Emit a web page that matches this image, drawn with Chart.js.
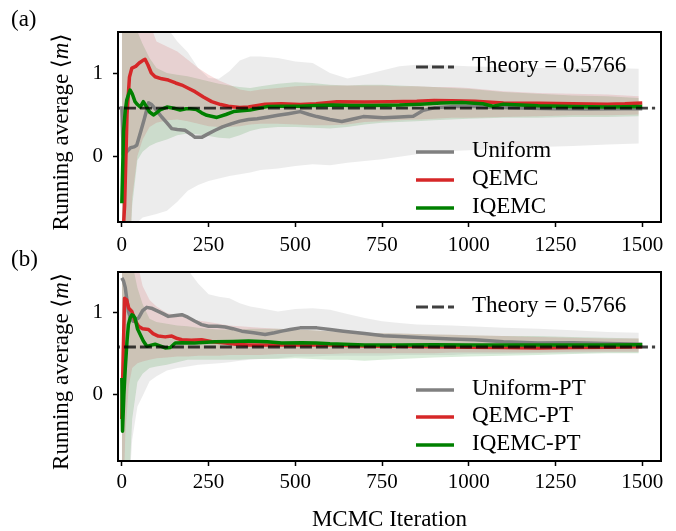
<!DOCTYPE html>
<html>
<head>
<meta charset="utf-8">
<script src="https://cdn.jsdelivr.net/npm/chart.js@4.4.1/dist/chart.umd.min.js"></script>
<style>
	html, body { margin: 0; padding: 0; background: #fff; overflow: hidden; }
	#wrap { position: relative; width: 676px; height: 531px; }
	canvas { position: absolute; left: 0; }
	#chart-a { top: 0; }
	#chart-b { top: 240px; }
</style>
</head>
<body>
<div id="wrap">
	<canvas id="chart-a" width="676" height="255"></canvas>
	<canvas id="chart-b" width="676" height="291"></canvas>
</div>
<script>
// ---- data ----
const THEORY = 0.5766;
const theoryIters = [-40, 1537];
const xTicks = [0, 250, 500, 750, 1000, 1250, 1500];
const yTicks = [0, 1];

// panel (a): running averages
const uniformItersA = [0, 4, 14, 25, 35, 43, 55, 65, 77, 86, 100, 115, 130, 144, 160, 182, 200, 211, 230, 250, 269, 290, 317, 340, 365, 390, 422, 450, 480, 514, 540, 562, 600, 634, 660, 696, 754, 800, 840, 869, 900, 950, 1000, 1050, 1100, 1177, 1250, 1350, 1450, 1500];
const uniformA = [0.6, 0.02, 0.05, 0.1, 0.11, 0.13, 0.3, 0.45, 0.64, 0.62, 0.55, 0.47, 0.4, 0.33, 0.32, 0.31, 0.26, 0.225, 0.225, 0.27, 0.31, 0.35, 0.39, 0.42, 0.44, 0.45, 0.47, 0.49, 0.51, 0.535, 0.5, 0.475, 0.44, 0.415, 0.44, 0.475, 0.46, 0.47, 0.48, 0.55, 0.58, 0.595, 0.6, 0.59, 0.585, 0.575, 0.57, 0.565, 0.57, 0.57];

const qemcItersA = [0, 8, 15, 22, 29, 40, 50, 60, 67, 75, 85, 96, 115, 134, 155, 173, 190, 211, 235, 259, 285, 307, 340, 365, 413, 460, 514, 560, 620, 700, 773, 850, 900, 950, 1018, 1100, 1200, 1300, 1400, 1450, 1500];
const qemcA = [-1.2, -0.6, 0.5, 0.95, 1.06, 1.08, 1.12, 1.15, 1.165, 1.1, 1.0, 0.955, 0.93, 0.915, 0.88, 0.855, 0.82, 0.775, 0.71, 0.655, 0.62, 0.6, 0.585, 0.59, 0.625, 0.63, 0.62, 0.63, 0.655, 0.65, 0.655, 0.66, 0.67, 0.665, 0.66, 0.64, 0.635, 0.63, 0.625, 0.63, 0.64];

const iqemcItersA = [0, 5, 10, 14, 20, 24, 30, 38, 45, 53, 62, 70, 80, 91, 100, 110, 130, 150, 168, 185, 197, 215, 230, 245, 274, 300, 322, 345, 370, 395, 418, 460, 514, 560, 609, 660, 720, 800, 860, 920, 980, 1040, 1070, 1100, 1150, 1200, 1300, 1400, 1500];
const iqemcA = [-0.57, 0.3, 0.55, 0.67, 0.75, 0.795, 0.75, 0.655, 0.62, 0.59, 0.655, 0.6, 0.53, 0.495, 0.52, 0.555, 0.59, 0.575, 0.555, 0.57, 0.57, 0.56, 0.52, 0.49, 0.465, 0.5, 0.535, 0.545, 0.555, 0.575, 0.595, 0.6, 0.6, 0.61, 0.615, 0.61, 0.61, 0.615, 0.625, 0.64, 0.645, 0.63, 0.6, 0.625, 0.615, 0.605, 0.595, 0.59, 0.595];

// shaded spread, same iteration grid for every band
const bandIters = [0, 10, 20, 30, 45, 60, 80, 100, 130, 160, 190, 220, 250, 280, 310, 340, 370, 400, 450, 500, 550, 600, 650, 700, 750, 800, 850, 900, 950, 1000, 1100, 1200, 1300, 1400, 1490];

const uniformHiA = [2.5, 2.5, 2.5, 2.5, 2.3, 2.1, 1.9, 1.75, 1.55, 1.38, 1.25, 1.06, 0.94, 0.93, 1.02, 1.15, 1.2, 1.2, 1.18, 1.14, 1.12, 1.0, 0.935, 0.98, 1.03, 1.08, 1.1, 1.1, 1.09, 1.08, 1.07, 1.06, 1.06, 1.06, 1.05];
const uniformLoA = [-2.5, -2.5, -1.8, -1.2, -0.8, -0.74, -0.72, -0.7, -0.66, -0.55, -0.42, -0.35, -0.3, -0.27, -0.24, -0.22, -0.2, -0.17, -0.15, -0.12, -0.1, -0.11, -0.08, -0.06, -0.04, -0.01, 0.02, 0.05, 0.06, 0.07, 0.09, 0.11, 0.12, 0.14, 0.15];
const qemcHiA = [2.5, 2.5, 2.5, 2.2, 2.0, 1.8, 1.6, 1.38, 1.32, 1.26, 1.16, 1.06, 0.98, 0.91, 0.86, 0.8, 0.78, 0.8, 0.82, 0.84, 0.85, 0.85, 0.85, 0.85, 0.85, 0.84, 0.84, 0.83, 0.83, 0.82, 0.78, 0.76, 0.75, 0.74, 0.72];
const qemcLoA = [-3, -2.5, -1.5, -0.5, 0.0, 0.2, 0.35, 0.4, 0.43, 0.44, 0.42, 0.39, 0.36, 0.35, 0.35, 0.36, 0.38, 0.39, 0.39, 0.38, 0.37, 0.37, 0.38, 0.41, 0.42, 0.43, 0.44, 0.45, 0.46, 0.46, 0.47, 0.48, 0.49, 0.49, 0.5];
const iqemcHiA = [2.5, 2.5, 2.2, 1.8, 1.5, 1.35, 1.18, 1.06, 1.0, 0.98, 0.96, 0.93, 0.9, 0.87, 0.85, 0.83, 0.82, 0.84, 0.87, 0.89, 0.88, 0.86, 0.85, 0.86, 0.86, 0.85, 0.84, 0.83, 0.82, 0.81, 0.77, 0.75, 0.73, 0.72, 0.7];
const iqemcLoA = [-3, -2.5, -1.5, -0.6, -0.05, 0.05, 0.12, 0.16, 0.2, 0.25, 0.27, 0.26, 0.24, 0.22, 0.21, 0.25, 0.3, 0.33, 0.35, 0.35, 0.34, 0.33, 0.35, 0.38, 0.4, 0.41, 0.42, 0.43, 0.44, 0.45, 0.46, 0.46, 0.47, 0.47, 0.48];

// panel (b): parallel tempering runs
const uniformItersB = [0, 5, 10, 19, 25, 33, 48, 60, 72, 85, 105, 120, 134, 155, 173, 190, 211, 230, 250, 275, 298, 320, 346, 380, 413, 440, 461, 485, 514, 562, 600, 639, 700, 754, 800, 869, 950, 1018, 1100, 1200, 1300, 1400, 1500];
const uniformB = [1.42, 1.38, 1.3, 1.01, 0.93, 0.89, 0.93, 1.02, 1.06, 1.05, 1.01, 0.98, 0.95, 0.96, 0.97, 0.94, 0.89, 0.85, 0.83, 0.83, 0.82, 0.8, 0.77, 0.75, 0.73, 0.75, 0.77, 0.79, 0.81, 0.81, 0.79, 0.77, 0.74, 0.715, 0.705, 0.69, 0.675, 0.665, 0.64, 0.625, 0.63, 0.62, 0.61];

const qemcItersB = [0, 4, 8, 14, 20, 29, 38, 48, 60, 77, 90, 105, 125, 144, 160, 173, 200, 230, 260, 298, 330, 365, 420, 500, 600, 700, 800, 900, 1000, 1100, 1200, 1300, 1400, 1500];
const qemcB = [-0.3, 0.5, 1.17, 1.15, 1.05, 1.01, 0.9, 0.83, 0.8, 0.79, 0.74, 0.71, 0.7, 0.71, 0.68, 0.665, 0.66, 0.665, 0.64, 0.625, 0.61, 0.6, 0.6, 0.6, 0.6, 0.59, 0.585, 0.58, 0.575, 0.57, 0.565, 0.57, 0.575, 0.58];

const iqemcItersB = [0, 2, 6, 10, 15, 19, 24, 29, 33, 38, 45, 53, 62, 72, 85, 96, 110, 125, 140, 154, 175, 210, 269, 320, 365, 420, 461, 520, 560, 600, 700, 800, 900, 1000, 1100, 1200, 1300, 1400, 1500];
const iqemcB = [0.2, -0.45, 0.0, 0.32, 0.65, 0.85, 0.93, 0.97, 0.96, 0.93, 0.8, 0.73, 0.65, 0.585, 0.6, 0.61, 0.59, 0.565, 0.57, 0.625, 0.63, 0.625, 0.64, 0.645, 0.65, 0.64, 0.625, 0.63, 0.625, 0.615, 0.6, 0.6, 0.605, 0.6, 0.6, 0.6, 0.6, 0.6, 0.605];

const uniformHiB = [3, 3, 3, 2.8, 2.5, 2.3, 2.1, 1.95, 1.8, 1.65, 1.52, 1.35, 1.22, 1.19, 1.17, 1.11, 1.07, 1.05, 1.01, 1.04, 1.05, 1.03, 0.98, 0.93, 0.89, 0.87, 0.85, 0.845, 0.84, 0.83, 0.81, 0.8, 0.78, 0.76, 0.75];
const uniformLoB = [-3, -2.5, -1.2, -0.55, -0.15, -0.02, 0.16, 0.22, 0.29, 0.32, 0.34, 0.36, 0.37, 0.38, 0.39, 0.41, 0.42, 0.43, 0.44, 0.46, 0.46, 0.47, 0.47, 0.47, 0.47, 0.48, 0.48, 0.48, 0.48, 0.49, 0.49, 0.5, 0.5, 0.51, 0.51];
const qemcHiB = [3, 3, 2.5, 2.0, 1.6, 1.32, 1.15, 1.07, 0.99, 0.96, 0.93, 0.9, 0.88, 0.86, 0.84, 0.83, 0.82, 0.81, 0.8, 0.79, 0.78, 0.77, 0.76, 0.75, 0.745, 0.74, 0.735, 0.73, 0.725, 0.72, 0.71, 0.7, 0.69, 0.68, 0.68];
const qemcLoB = [-2, -0.5, 0.1, 0.32, 0.38, 0.4, 0.42, 0.44, 0.45, 0.46, 0.46, 0.47, 0.47, 0.47, 0.48, 0.48, 0.48, 0.48, 0.49, 0.49, 0.49, 0.49, 0.5, 0.5, 0.5, 0.5, 0.5, 0.5, 0.51, 0.51, 0.51, 0.51, 0.52, 0.52, 0.52];
const iqemcHiB = [3, 2.5, 2.0, 1.6, 1.3, 1.1, 0.92, 0.88, 0.86, 0.84, 0.83, 0.81, 0.8, 0.79, 0.79, 0.79, 0.8, 0.8, 0.8, 0.79, 0.78, 0.77, 0.76, 0.75, 0.745, 0.74, 0.735, 0.73, 0.725, 0.72, 0.71, 0.71, 0.7, 0.69, 0.68];
const iqemcLoB = [-3, -2.5, -1.2, -0.3, 0.15, 0.25, 0.32, 0.34, 0.36, 0.39, 0.42, 0.42, 0.42, 0.42, 0.42, 0.42, 0.43, 0.43, 0.43, 0.44, 0.43, 0.42, 0.42, 0.41, 0.42, 0.43, 0.44, 0.45, 0.455, 0.46, 0.47, 0.48, 0.49, 0.5, 0.5];

// ---- styling ----
const SERIF = '"Liberation Serif", "DejaVu Sans", serif';
const GRAY = '#808080';
const RED = '#d62728';
const GREEN = '#008000';
const bandAlpha = 0.15;

Chart.defaults.font.family = SERIF;
Chart.defaults.color = '#000';

function toPoints (xs, ys) {
	return xs.map((x, i) => ({ x: x, y: ys[i] }));
}

function rgba (hex, a) {
	const n = parseInt(hex.slice(1), 16);
	return `rgba(${(n >> 16) & 255}, ${(n >> 8) & 255}, ${n & 255}, ${a})`;
}

// two invisible edges, the upper one filled down to the lower one
function band (lo, hi, color) {
	const edge = { borderColor: 'transparent', borderWidth: 1, pointRadius: 0, order: 10 };
	return [
		Object.assign({ data: toPoints(bandIters, lo), fill: false }, edge),
		Object.assign({ data: toPoints(bandIters, hi), fill: '-1', backgroundColor: rgba(color, bandAlpha) }, edge)
	];
}

function runLine (label, iters, vals, color, order, legendY) {
	return {
		label: label,
		data: toPoints(iters, vals),
		borderColor: color,
		borderWidth: 3.5,
		borderJoinStyle: 'round',
		pointRadius: 0,
		fill: false,
		order: order,
		legendY: legendY
	};
}

function theoryLine (legendY) {
	return {
		label: 'Theory = 0.5766',
		data: toPoints(theoryIters, theoryIters.map(() => THEORY)),
		borderColor: 'rgba(0, 0, 0, 0.75)',
		borderWidth: 2.8,
		borderDash: [12, 4],
		pointRadius: 0,
		fill: false,
		order: 0,
		legendY: legendY
	};
}

// frame, panel letter, y title and the in-plot legend
const paperPlugin = {
	id: 'paper',
	afterDatasetsDraw (chart) {
		const { ctx, chartArea: a } = chart;
		ctx.save();
		ctx.strokeStyle = '#000';
		ctx.lineWidth = 2;
		ctx.strokeRect(a.left, a.top, a.right - a.left, a.bottom - a.top);
		ctx.restore();
	},
	afterDraw (chart, args, opts) {
		const { ctx, chartArea: a } = chart;
		ctx.save();
		ctx.fillStyle = '#000';
		ctx.textBaseline = 'middle';
		ctx.textAlign = 'left';

		ctx.font = `23px ${SERIF}`;
		ctx.fillText(opts.panel, 11, 20);

		// y title with an italic m
		const parts = [
			{ t: 'Running average ', f: `23px ${SERIF}` },
			{ t: '\u27E8', f: `23px ${SERIF}` },
			{ t: 'm', f: `italic 23px ${SERIF}` },
			{ t: '\u27E9', f: `23px ${SERIF}` }
		];
		let total = 0;
		parts.forEach((p) => { ctx.font = p.f; p.w = ctx.measureText(p.t).width; total += p.w; });
		ctx.save();
		ctx.translate(62, (a.top + a.bottom) / 2 + 5);
		ctx.rotate(-Math.PI / 2);
		let x = -total / 2;
		parts.forEach((p) => { ctx.font = p.f; ctx.fillText(p.t, x, 0); x += p.w; });
		ctx.restore();

		// legend rows
		ctx.font = `23px ${SERIF}`;
		chart.data.datasets.forEach((ds) => {
			if (ds.legendY === undefined) return;
			ctx.strokeStyle = ds.borderColor;
			ctx.lineWidth = ds.borderWidth;
			ctx.setLineDash(ds.borderDash || []);
			ctx.beginPath();
			ctx.moveTo(416, ds.legendY);
			ctx.lineTo(454, ds.legendY);
			ctx.stroke();
			ctx.setLineDash([]);
			ctx.fillText(ds.label, 472, ds.legendY - 1);
		});
		ctx.restore();
	}
};

function buildPanel (canvasId, opt) {
	const datasets = [].concat(
		band(opt.uniformLo, opt.uniformHi, GRAY),
		band(opt.qemcLo, opt.qemcHi, RED),
		band(opt.iqemcLo, opt.iqemcHi, GREEN),
		[
			runLine(opt.names[0], opt.uniformIters, opt.uniform, GRAY, 3, opt.legendRows[0]),
			runLine(opt.names[1], opt.qemcIters, opt.qemc, RED, 2, opt.legendRows[1]),
			runLine(opt.names[2], opt.iqemcIters, opt.iqemc, GREEN, 1, opt.legendRows[2]),
			theoryLine(67)
		]
	);

	const tickGrid = { drawOnChartArea: false, drawTicks: true, tickLength: 5, tickWidth: 1.5, tickColor: '#000' };

	return new Chart(document.getElementById(canvasId), {
		type: 'line',
		data: { datasets: datasets },
		plugins: [paperPlugin],
		options: {
			responsive: false,
			animation: false,
			devicePixelRatio: 1,
			events: [],
			layout: { padding: { top: 32, right: 15, bottom: 0, left: 0 } },
			plugins: {
				legend: { display: false },
				tooltip: { enabled: false },
				paper: { panel: opt.panel }
			},
			scales: {
				x: {
					type: 'linear',
					min: -11,
					max: 1554,
					afterBuildTicks: (s) => { s.ticks = xTicks.map((v) => ({ value: v })); },
					afterFit: (s) => { s.height = opt.xAxisHeight; },
					grid: tickGrid,
					border: { display: false },
					ticks: { font: { size: 21 }, color: '#000', padding: opt.xTickPad, maxRotation: 0, autoSkip: false, callback: (v) => String(v) },
					title: {
						display: opt.showXTitle,
						text: 'MCMC Iteration',
						font: { size: 23, lineHeight: 1 },
						color: '#000',
						padding: { top: 0, bottom: 0 }
					}
				},
				y: {
					type: 'linear',
					min: opt.yMin,
					max: opt.yMax,
					afterBuildTicks: (s) => { s.ticks = yTicks.map((v) => ({ value: v })); },
					afterFit: (s) => { s.width = 118; },
					grid: tickGrid,
					border: { display: false },
					ticks: { font: { size: 21 }, color: '#000', padding: 10, callback: (v) => String(v) }
				}
			}
		}
	});
}

buildPanel('chart-a', {
	panel: '(a)',
	names: ['Uniform', 'QEMC', 'IQEMC'],
	legendRows: [152, 180, 208],
	uniformIters: uniformItersA, uniform: uniformA,
	qemcIters: qemcItersA, qemc: qemcA,
	iqemcIters: iqemcItersA, iqemc: iqemcA,
	uniformLo: uniformLoA, uniformHi: uniformHiA,
	qemcLo: qemcLoA, qemcHi: qemcHiA,
	iqemcLo: iqemcLoA, iqemcHi: iqemcHiA,
	yMin: -0.795, yMax: 1.494,
	xAxisHeight: 33, xTickPad: 6, showXTitle: false
});

buildPanel('chart-b', {
	panel: '(b)',
	names: ['Uniform-PT', 'QEMC-PT', 'IQEMC-PT'],
	legendRows: [150, 177, 205],
	uniformIters: uniformItersB, uniform: uniformB,
	qemcIters: qemcItersB, qemc: qemcB,
	iqemcIters: iqemcItersB, iqemc: iqemcB,
	uniformLo: uniformLoB, uniformHi: uniformHiB,
	qemcLo: qemcLoB, qemcHi: qemcHiB,
	iqemcLo: iqemcLoB, iqemcHi: iqemcHiB,
	yMin: -0.813, yMax: 1.491,
	xAxisHeight: 70, xTickPad: 3.5, showXTitle: true
});
</script>
</body>
</html>
